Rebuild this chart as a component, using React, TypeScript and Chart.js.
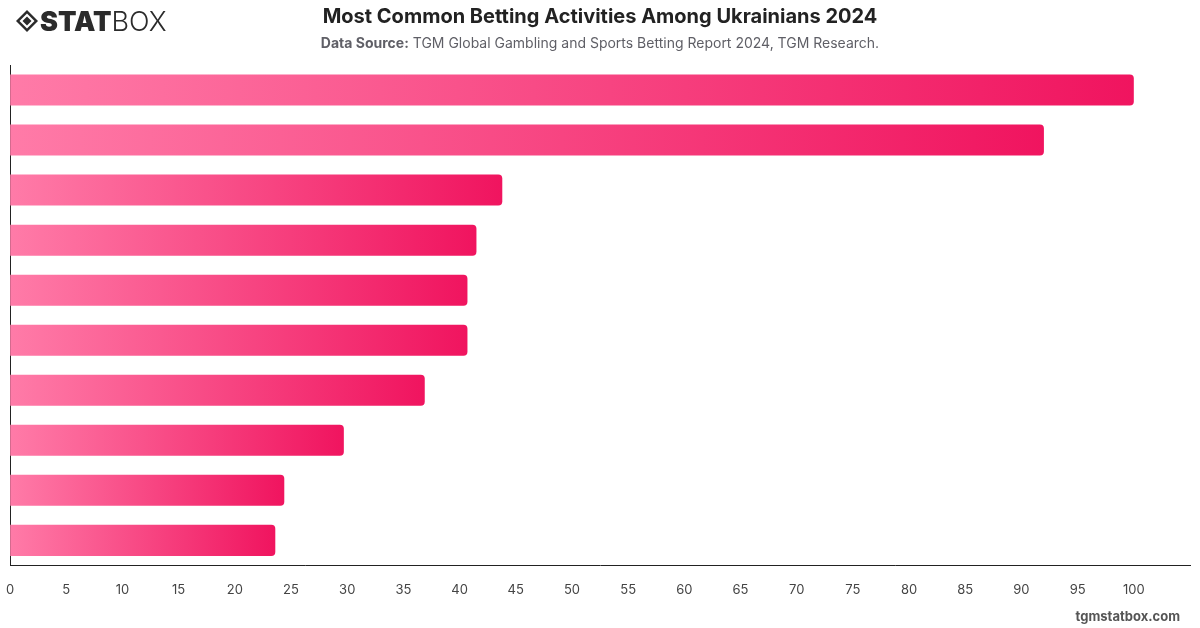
import React, { useEffect, useRef } from "react";
import { Chart, registerables } from "chart.js";

Chart.register(...registerables);

// Betting activities, ordered from most to least common
const activities = [
  "Sports betting",
  "Online casino games",
  "Lottery",
  "Slot machines",
  "Esports betting",
  "Poker",
  "Instant lotteries",
  "Land-based casino",
  "Fantasy sports",
  "Bingo",
];

// Share of respondents (relative index)
const shares = [100, 92, 43.8, 41.5, 40.7, 40.7, 36.9, 29.7, 24.4, 23.6];

// Tick labels shown on the value axis
const tickValues = [0, 5, 10, 15, 20, 25, 30, 35, 40, 45, 50, 55, 60, 65, 70, 75, 80, 85, 90, 95, 100];

const TITLE = "Most Common Betting Activities Among Ukrainians 2024";
const SOURCE_LABEL = "Data Source:";
const SOURCE_TEXT = " TGM Global Gambling and Sports Betting Report 2024, TGM Research.";
const SITE = "tgmstatbox.com";

const FONT = "Inter, 'Noto Sans', Arial, sans-serif";

// Draws the brand mark, heading, source line and site footer on the canvas
const headerPlugin = {
  id: "headerPlugin",
  afterDraw(chart: any) {
    const ctx = chart.ctx as CanvasRenderingContext2D;
    ctx.save();

    // Logo: diamond icon
    const cx = 27, cy = 21;
    ctx.fillStyle = "#2b2b2b";
    ctx.beginPath();
    ctx.moveTo(cx, cy - 11);
    ctx.lineTo(cx + 11, cy);
    ctx.lineTo(cx, cy + 11);
    ctx.lineTo(cx - 11, cy);
    ctx.closePath();
    ctx.fill();
    ctx.fillStyle = "#ffffff";
    ctx.beginPath();
    ctx.moveTo(cx, cy - 7.5);
    ctx.lineTo(cx + 7.5, cy);
    ctx.lineTo(cx, cy + 7.5);
    ctx.lineTo(cx - 7.5, cy);
    ctx.closePath();
    ctx.fill();
    ctx.fillStyle = "#2b2b2b";
    ctx.beginPath();
    ctx.moveTo(cx, cy - 4.5);
    ctx.lineTo(cx + 4.5, cy);
    ctx.lineTo(cx, cy + 4.5);
    ctx.lineTo(cx - 4.5, cy);
    ctx.closePath();
    ctx.fill();

    // Logo: wordmark
    ctx.textBaseline = "alphabetic";
    ctx.textAlign = "left";
    ctx.font = `900 27px ${FONT}`;
    ctx.fillStyle = "#2b2b2b";
    ctx.fillText("STAT", 40, 31);
    const w = ctx.measureText("STAT").width;
    ctx.font = `300 27px ${FONT}`;
    ctx.fillText("BOX", 40 + w, 31);

    // Heading
    ctx.textAlign = "center";
    ctx.textBaseline = "middle";
    ctx.font = `bold 20px ${FONT}`;
    ctx.fillStyle = "#222222";
    ctx.fillText(TITLE, 600, 17);

    // Source line (bold label + regular text, centred together)
    ctx.font = `bold 14px ${FONT}`;
    const wl = ctx.measureText(SOURCE_LABEL).width;
    ctx.font = `14px ${FONT}`;
    const wt = ctx.measureText(SOURCE_TEXT).width;
    const start = 600 - (wl + wt) / 2;
    ctx.textAlign = "left";
    ctx.fillStyle = "#5f5f66";
    ctx.font = `bold 14px ${FONT}`;
    ctx.fillText(SOURCE_LABEL, start, 44);
    ctx.font = `14px ${FONT}`;
    ctx.fillText(SOURCE_TEXT, start + wl, 44);

    // Footer
    ctx.textAlign = "right";
    ctx.font = `bold 13px ${FONT}`;
    ctx.fillStyle = "#555555";
    ctx.fillText(SITE, 1180, 617);

    ctx.restore();
  },
};

function barGradient(context: any) {
  const chart = context.chart;
  const xScale = chart.scales?.x;
  if (!chart.chartArea || !xScale) return "#f7457f";
  const v = context.raw as number;
  const x0 = xScale.getPixelForValue(0);
  const x1 = xScale.getPixelForValue(v);
  const g = chart.ctx.createLinearGradient(x0, 0, x1, 0);
  g.addColorStop(0, "#ff7ba8");
  g.addColorStop(1, "#f0145f");
  return g;
}

export default function App() {
  const canvasRef = useRef<HTMLCanvasElement | null>(null);

  useEffect(() => {
    if (!canvasRef.current) return;
    const chart = new Chart(canvasRef.current, {
      type: "bar",
      data: {
        labels: activities,
        datasets: [
          {
            data: shares,
            backgroundColor: barGradient,
            borderRadius: 4,
            borderSkipped: "start",
            categoryPercentage: 1,
            barPercentage: 0.62,
          },
        ],
      },
      options: {
        indexAxis: "y",
        animation: false,
        responsive: false,
        maintainAspectRatio: false,
        layout: { padding: { top: 65, left: 10, right: 10, bottom: 24 } },
        plugins: {
          legend: { display: false },
          tooltip: { enabled: false },
          title: { display: false },
        },
        scales: {
          x: {
            type: "linear",
            min: 0,
            max: 105,
            grid: { display: false, tickLength: 11 },
            border: { display: true, color: "#222222", width: 1 },
            afterBuildTicks(scale: any) {
              scale.ticks = [...tickValues, 105].map((value) => ({ value }));
            },
            ticks: {
              padding: 6,
              color: "#444444",
              font: { family: FONT, size: 13 },
              callback: (value: any) => (tickValues.includes(Number(value)) ? String(value) : ""),
            },
          },
          y: {
            grid: { display: false, drawTicks: false, tickLength: 0 },
            border: { display: true, color: "#222222", width: 1 },
            ticks: { display: false },
          },
        },
      },
      plugins: [headerPlugin],
    });
    return () => chart.destroy();
  }, []);

  return (
    <div style={{ position: "absolute", left: 0, top: 0, width: 1200, height: 628, background: "#ffffff" }}>
      <canvas ref={canvasRef} width={1200} height={628} style={{ display: "block", width: 1200, height: 628 }} />
    </div>
  );
}
